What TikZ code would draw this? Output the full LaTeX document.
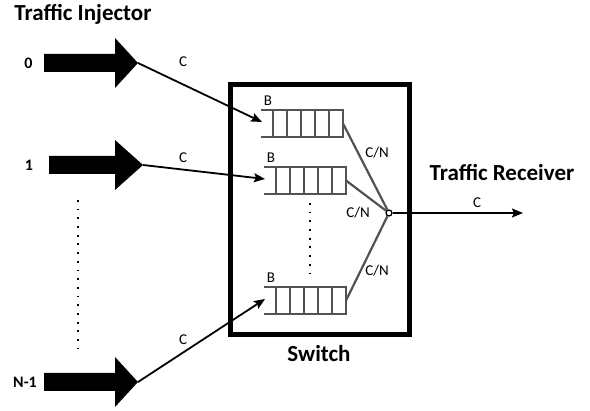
\documentclass[tikz,border=0pt]{standalone}
\usepackage{fontspec}
\setmainfont{Carlito}
\usetikzlibrary{arrows.meta}
\begin{document}
\begin{tikzpicture}[x=1pt,y=-1pt,
  title/.style={font=\fontsize{23}{26}\selectfont\bfseries},
  idx/.style={font=\fontsize{16}{18}\selectfont\bfseries},
  lbl/.style={font=\fontsize{15}{17}\selectfont},
  link/.style={line width=1.8pt,-{Stealth[length=11pt,width=9pt,inset=2pt]}},
  buf/.style={draw=black!68,line width=2.6pt},
  dots/.style={line width=1.8pt,dash pattern=on 1.8pt off 6.9pt}]
  \useasboundingbox (0,0) rectangle (590,411);
  % injectors
  \node[title] (inj) at (83,14) {Traffic Injector};
  \foreach \y/\s/\t/\lx/\n/\name in {63/44/138/28.5/0/src0, 165/49/143/29/1/src1, 382/44/138/25/N-1/src2}{
    \fill (\s,\y-9) -- (115,\y-9) -- (115,\y-25) -- (\t,\y) -- (115,\y+25)
      -- (115,\y+9) -- (\s,\y+9) -- cycle;
    \coordinate (\name) at (\t,\y);
    \node[idx] at (\lx,\y) {\n};
  }
  \draw[dots] (78,200) -- (78,348);
  % switch
  \node[draw,line width=5pt,minimum width=179pt,minimum height=250pt] (sw) at (319.5,210) {};
  \node[title] (swl) at (319,354) {Switch};
  \foreach \x/\y/\name in {261/110/q0, 264/167/q1, 264/287/q2}{
    \draw[buf] (\x,\y) -- (\x+82,\y) -- (\x+82,\y+27) -- (\x,\y+27);
    \foreach \d in {12,26,40,54,68}
      \draw[buf] (\x+\d,\y) -- (\x+\d,\y+27);
    \coordinate (\name-in) at (\x+1,\y+12);
    \coordinate (\name-out) at (\x+82,\y+13.5);
    \node[lbl] at (\x+7,\y-9) {B};
  }
  \draw[dots] (310,203) -- (310,273);
  \node[circle,draw,line width=1.3pt,fill=white,inner sep=0pt,minimum size=6pt] (jn) at (389,213) {};
  \foreach \q in {q0,q1,q2}
    \draw[draw=black!68,line width=2.2pt] (\q-out) -- (jn);
  \node[lbl] at (377,153) {C/N};
  \node[lbl] at (358,213) {C/N};
  \node[lbl] at (377,271) {C/N};
  % links
  \draw[link] (src0) -- (q0-in);
  \draw[link] (src1) -- (q1-in);
  \draw[link] (src2) -- (q2-in);
  \node[lbl] at (183,62) {C};
  \node[lbl] at (183,158) {C};
  \node[lbl] at (183,340) {C};
  % receiver
  \coordinate (rcv) at (523,213);
  \draw[link] (jn) -- (rcv);
  \node[lbl] at (477,203) {C};
  \node[title] (rx) at (502,173) {Traffic Receiver};
\end{tikzpicture}
\end{document}
